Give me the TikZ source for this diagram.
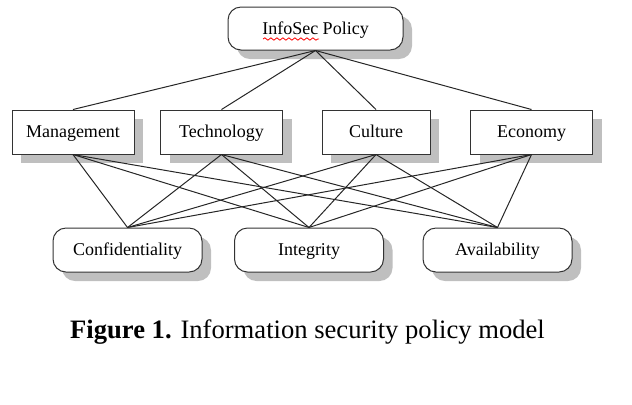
\documentclass[tikz,border=0pt]{standalone}
\usepackage{fontspec}
\setmainfont{Liberation Serif}
\usetikzlibrary{shadows,decorations.pathmorphing}
\tikzset{
  shade box/.style={draw=black!80,fill=white,line width=0.5pt,font=\fontsize{9}{10}\selectfont,
    text height=1.6ex,text depth=0.4ex,
    drop shadow={shadow xshift=4.5pt,shadow yshift=-4.5pt,fill=black!25,opacity=1}},
  aspect box/.style={shade box,rounded corners=6.5pt,minimum width=74.5pt,minimum height=22pt},
  area box/.style={shade box,minimum width=61pt,minimum height=22pt},
  link/.style={line width=0.5pt,black!85}
}
\begin{document}
\begin{tikzpicture}[x=0.5pt,y=-0.5pt]
        \useasboundingbox (0,0) rectangle (632,404);
        % Policy
        \node[aspect box,minimum width=87.5pt,minimum height=21.5pt](policy) at (315.5,28.5){InfoSec Policy};
        % Spell check mark
        \draw[red,line width=0.4pt,decorate,decoration={snake,segment length=3pt,amplitude=0.6pt}](263,39)--(319,39);
        % Areas
        \node[area box](mgmt) at (73,132){Management};
        \node[area box](tech) at (221.5,132){Technology};
        \node[area box,minimum width=54pt](cult) at (376,132){Culture};
        \node[area box](econ) at (531.5,132){Economy};
        % Security aspects
        \node[aspect box](conf) at (127.5,250){Confidentiality};
        \node[aspect box](integ) at (309,250){Integrity};
        \node[aspect box](avail) at (497.5,250){Availability};
        % Links
        \foreach \a in {mgmt,tech,cult,econ}{
            \draw[link](policy.south)--(\a.north);
            \foreach \b in {conf,integ,avail}
                \draw[link](\a.south)--(\b.north);
        }
        % Caption
        \node(caption) at (307.5,332){\fontsize{13.3}{16}\selectfont\textbf{Figure 1.} Information security policy model};
    \end{tikzpicture}
\end{document}
